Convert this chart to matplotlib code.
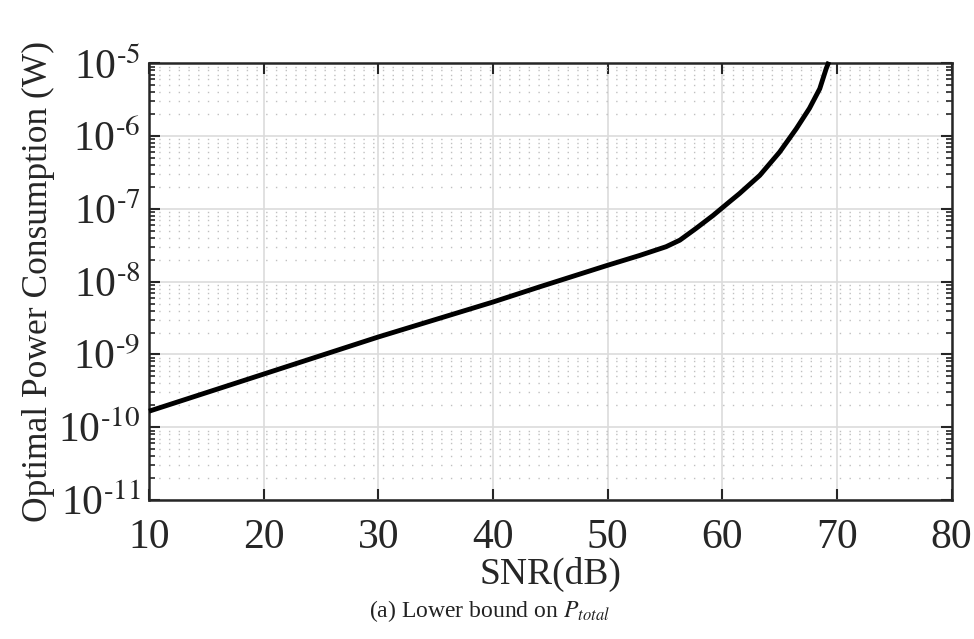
import numpy as np
import matplotlib
matplotlib.use("Agg")
import matplotlib.pyplot as plt
from matplotlib.ticker import LogLocator, NullFormatter

# values (SNR in dB, log10 of power in W)
snr_db = [10, 20, 30, 40, 44.1, 49.9, 52.8, 55.1, 56.3, 57.7, 59.2, 60.65, 61.5,
          63.27, 65.0, 66.45, 67.6, 68.5, 69.07, 69.3]
log_power = [-9.78, -9.27, -8.76, -8.28, -8.07, -7.78, -7.64, -7.52, -7.43, -7.27, -7.09,
             -6.90, -6.79, -6.54, -6.22, -5.90, -5.62, -5.35, -5.07, -4.98]

x_ticks = [10, 20, 30, 40, 50, 60, 70, 80]
y_exps = [-11, -10, -9, -8, -7, -6, -5]

plt.rcParams['font.family'] = ['Liberation Serif', 'DejaVu Serif']
plt.rcParams['mathtext.fontset'] = 'stix'

fig = plt.figure(figsize=(9.74, 6.39), dpi=100)
ax = fig.add_axes([0.153, 0.2175, 0.824, 0.6835])

ax.semilogy(snr_db, 10 ** np.array(log_power), color='black', lw=3.5, zorder=5,
            solid_capstyle='butt', solid_joinstyle='round', clip_on=False)

ax.set_xlim(10, 80)
ax.set_ylim(1e-11, 1e-5)
ax.set_xticks(x_ticks)
ax.set_xticklabels([str(t) for t in x_ticks])
ax.set_yticks([10.0 ** e for e in y_exps])
ax.set_yticklabels(['10$^{\u2010%d}$' % -e for e in y_exps])
ax.yaxis.set_minor_locator(LogLocator(base=10, subs=np.arange(2, 10), numticks=20))
ax.yaxis.set_minor_formatter(NullFormatter())

ax.grid(True, which='major', color='#dcdcdc', lw=1.2, ls='-')
ax.grid(True, which='minor', axis='y', color='#c0c0c0', lw=1.0, ls=(0, (1, 6)))
ax.set_axisbelow(True)

ax.tick_params(which='both', direction='in', top=True, right=True, colors='#262626',
               labelcolor='#262626')
ax.tick_params(which='major', length=8, width=1.5, labelsize=30)
ax.tick_params(axis='x', which='major', pad=13)
ax.tick_params(axis='y', which='major', pad=6)
ax.tick_params(which='minor', length=4, width=1.2)
for s in ax.spines.values():
    s.set_color('#262626')
    s.set_linewidth(1.8)

ax.set_xlabel('SNR(dB)', fontsize=27, color='#262626', labelpad=0)
ax.set_ylabel('Optimal Power Consumption (W)', fontsize=25.5, color='#262626', labelpad=2)

fig.text(0.503, 0.044, r'(a) Lower bound on $P_{total}$', ha='center', va='center',
         fontsize=17, color='#222222')

fig.savefig('out.png', dpi=100)
